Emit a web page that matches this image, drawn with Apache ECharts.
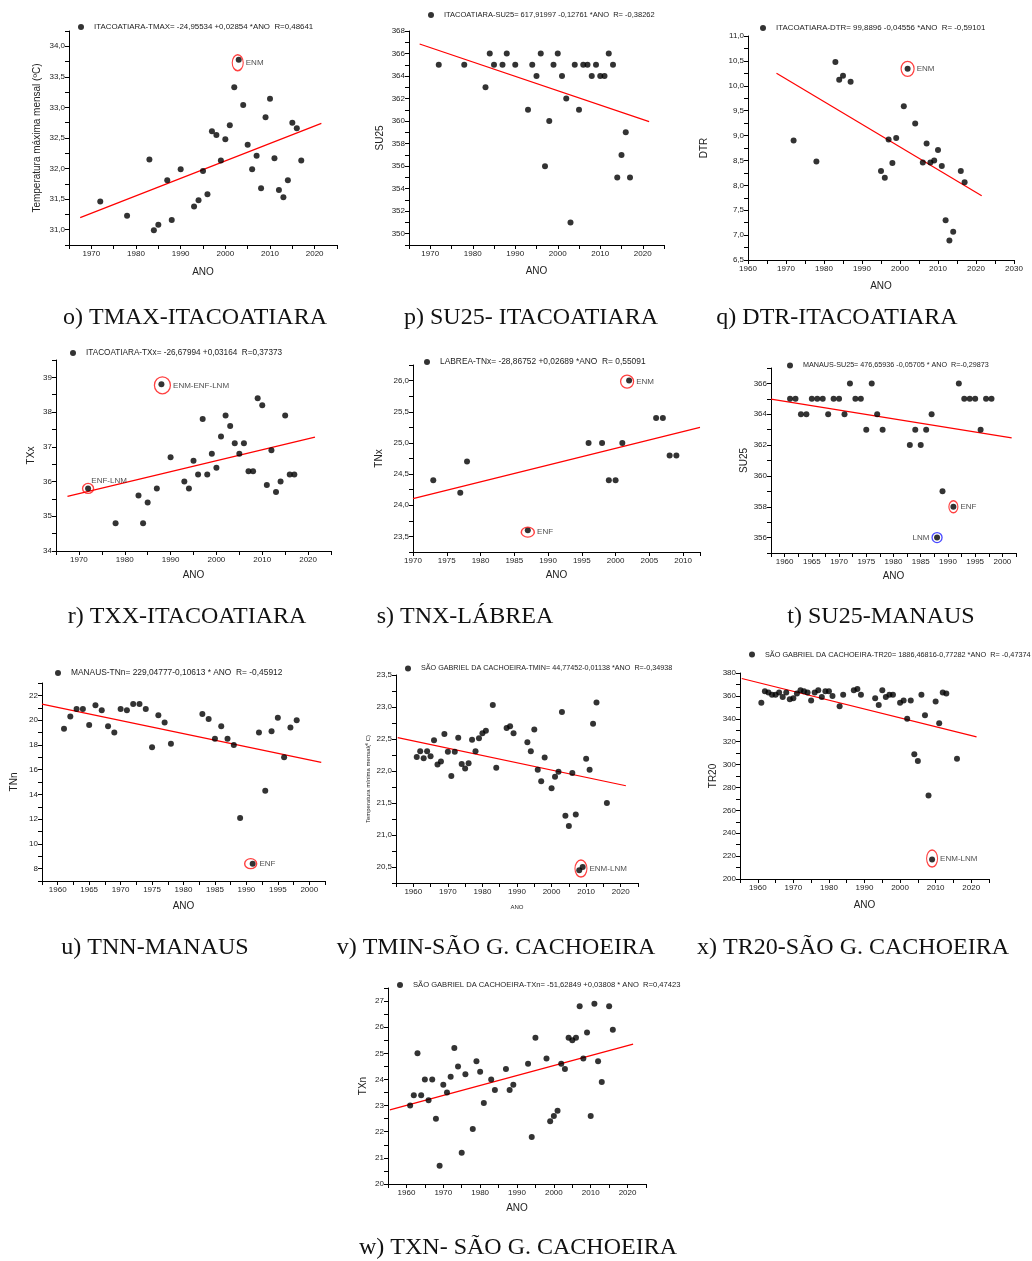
<!DOCTYPE html>
<html>
<head>
<meta charset="utf-8">
<script src="https://cdn.jsdelivr.net/npm/echarts@6/dist/echarts.min.js"></script>
<style>
html,body{margin:0;padding:0;background:#fff}
#grafico{width:1032px;height:1261px}
</style>
</head>
<body>
<div id="grafico"></div>
<script>
// ---------- Itacoatiara: TMAX ----------
const anosTmaxIta = [1972,1978,1983,1984,1985,1987,1988,1990,1993,1994,1995,1996,1997,1998,1999,2000,2001,2002,2003,2004,2005,2006,2007,2008,2009,2010,2011,2012,2013,2014,2015,2016,2017];
const tmaxIta = [31.46,31.23,32.15,30.99,31.08,31.81,31.16,31.99,31.38,31.48,31.96,31.58,32.61,32.55,32.13,32.48,32.71,33.33,33.78,33.04,32.39,31.99,32.21,31.68,32.84,33.14,32.17,31.65,31.53,31.81,32.75,32.66,32.13];
const coefTmaxIta = [-24.95534, 0.02854];
const destTmaxIta = [[2003, 'ENM']];

// ---------- Itacoatiara: SU25 ----------
const anosSu25Ita = [1972,1978,1983,1984,1985,1987,1988,1990,1993,1994,1995,1996,1997,1998,1999,2000,2001,2002,2003,2004,2005,2006,2007,2008,2009,2010,2011,2012,2013,2014,2015,2016,2017];
const su25Ita = [365,365,363,366,365,365,366,365,361,365,364,366,356,360,365,366,364,362,351,365,361,365,365,364,365,364,364,366,365,355,357,359,355];
const coefSu25Ita = [617.91997, -0.12761];
const destSu25Ita = [];

// ---------- Itacoatiara: DTR ----------
const anosDtrIta = [1972,1978,1983,1984,1985,1987,1995,1996,1997,1998,1999,2001,2002,2004,2006,2007,2008,2009,2010,2011,2012,2013,2014,2016,2017];
const dtrIta = [8.90,8.48,10.48,10.12,10.20,10.08,8.29,8.15,8.92,8.45,8.95,9.59,10.34,9.24,8.46,8.84,8.46,8.50,8.71,8.39,7.30,6.89,7.07,8.29,8.06];
const coefDtrIta = [99.8896, -0.04556];
const destDtrIta = [[2002, 'ENM']];

// ---------- Itacoatiara: TXx ----------
const anosTxxIta = [1972,1978,1983,1984,1985,1987,1988,1990,1993,1994,1995,1996,1997,1998,1999,2000,2001,2002,2003,2004,2005,2006,2007,2008,2009,2010,2011,2012,2013,2014,2015,2016,2017];
const txxIta = [35.8,34.8,35.6,34.8,35.4,35.8,38.8,36.7,36.0,35.8,36.6,36.2,37.8,36.2,36.8,36.4,37.3,37.9,37.6,37.1,36.8,37.1,36.3,36.3,38.4,38.2,35.9,36.9,35.7,36.0,37.9,36.2,36.2];
const coefTxxIta = [-26.67994, 0.03164];
const destTxxIta = [[1988, 'ENM-ENF-LNM'], [1972, 'ENF-LNM']];

// ---------- Lábrea: TNx ----------
const anosTnxLab = [1973,1977,1978,1987,1996,1998,1999,2000,2001,2002,2006,2007,2008,2009];
const tnxLab = [24.4,24.2,24.7,23.6,25.0,25.0,24.4,24.4,25.0,26.0,25.4,25.4,24.8,24.8];
const coefTnxLab = [-28.86752, 0.02689];
const destTnxLab = [[2002, 'ENM'], [1987, 'ENF']];

// ---------- Manaus: SU25 ----------
const anosSu25Man = [1961,1962,1963,1964,1965,1966,1967,1968,1969,1970,1971,1972,1973,1974,1975,1976,1977,1978,1983,1984,1985,1986,1987,1988,1989,1991,1992,1993,1994,1995,1996,1997,1998];
const su25Man = [365,365,364,364,365,365,365,364,365,365,364,366,365,365,363,366,364,363,362,363,362,363,364,356,359,358,366,365,365,365,363,365,365];
const coefSu25Man = [476.65936, -0.05705];
const destSu25Man = [[1991, 'ENF'], [1988, 'LNM']];

// ---------- Manaus: TNn ----------
const anosTnnMan = [1961,1962,1963,1964,1965,1966,1967,1968,1969,1970,1971,1972,1973,1974,1975,1976,1977,1978,1983,1984,1985,1986,1987,1988,1989,1991,1992,1993,1994,1995,1996,1997,1998];
const tnnMan = [19.3,20.3,20.9,20.9,19.6,21.2,20.8,19.5,19.0,20.9,20.8,21.3,21.3,20.9,17.8,20.4,19.8,18.1,20.5,20.1,18.5,19.5,18.5,18.0,12.1,8.4,19.0,14.3,19.1,20.2,17.0,19.4,20.0];
const coefTnnMan = [229.04777, -0.10613];
const destTnnMan = [[1991, 'ENF']];

// ---------- São Gabriel da Cachoeira: TMIN ----------
const anosTminSgc = [1961,1962,1963,1964,1965,1966,1967,1968,1969,1970,1971,1972,1973,1974,1975,1976,1977,1978,1979,1980,1981,1983,1984,1987,1988,1989,1993,1994,1995,1996,1997,1998,2000,2001,2002,2003,2004,2005,2006,2007,2008,2009,2010,2011,2012,2013,2016];
const tminSgc = [22.22,22.31,22.20,22.31,22.23,22.48,22.10,22.15,22.58,22.30,21.92,22.30,22.52,22.11,22.04,22.12,22.49,22.31,22.51,22.59,22.63,23.03,22.05,22.67,22.70,22.59,22.45,22.31,22.65,22.02,21.84,22.21,21.73,21.91,21.99,22.92,21.30,21.14,21.97,21.32,20.45,20.50,22.19,22.02,22.74,23.07,21.50];
const coefTminSgc = [44.77452, -0.01138];
const destTminSgc = [[[2008, 2009], 'ENM-LNM']];

// ---------- São Gabriel da Cachoeira: TR20 ----------
const anosTr20Sgc = [1961,1962,1963,1964,1965,1966,1967,1968,1969,1970,1971,1972,1973,1974,1975,1976,1977,1978,1979,1980,1981,1983,1984,1987,1988,1989,1993,1994,1995,1996,1997,1998,2000,2001,2002,2003,2004,2005,2006,2007,2008,2009,2010,2011,2012,2013,2016];
const tr20Sgc = [354,364,363,361,361,363,359,363,357,358,362,365,364,363,356,363,365,359,364,364,360,351,361,365,366,361,358,352,365,359,361,361,354,356,340,356,309,303,361,343,273,217,355,336,363,362,305];
const coefTr20Sgc = [1886.46816, -0.77282];
const destTr20Sgc = [[2009, 'ENM-LNM']];

// ---------- São Gabriel da Cachoeira: TXn ----------
const anosTxnSgc = [1961,1962,1963,1964,1965,1966,1967,1968,1969,1970,1971,1972,1973,1974,1975,1976,1978,1979,1980,1981,1983,1984,1987,1988,1989,1993,1994,1995,1998,1999,2000,2001,2002,2003,2004,2005,2006,2007,2008,2009,2010,2011,2012,2013,2015,2016];
const txnSgc = [23.0,23.4,25.0,23.4,24.0,23.2,24.0,22.5,20.7,23.8,23.5,24.1,25.2,24.5,21.2,24.2,22.1,24.7,24.3,23.1,24.0,23.6,24.4,23.6,23.8,24.6,21.8,25.6,24.8,22.4,22.6,22.8,24.6,24.4,25.6,25.5,25.6,26.8,24.8,25.8,22.6,26.9,24.7,23.9,26.8,25.9];
const coefTxnSgc = [-51.62849, 0.03808];
const destTxnSgc = [];

// ---------- texts ----------
const equacoes = [
  'ITACOATIARA-TMAX= -24,95534 +0,02854 *ANO  R=0,48641',
  'ITACOATIARA-SU25= 617,91997 -0,12761 *ANO  R= -0,38262',
  'ITACOATIARA-DTR= 99,8896 -0,04556 *ANO  R= -0,59101',
  'ITACOATIARA-TXx= -26,67994 +0,03164  R=0,37373',
  'LABREA-TNx= -28,86752 +0,02689 *ANO  R= 0,55091',
  'MANAUS-SU25= 476,65936 -0,05705 * ANO  R=-0,29873',
  'MANAUS-TNn= 229,04777-0,10613 * ANO  R= -0,45912',
  'SÃO GABRIEL DA CACHOEIRA-TMIN= 44,77452-0,01138 *ANO  R=-0,34938',
  'SÃO GABRIEL DA CACHOEIRA-TR20= 1886,46816-0,77282 *ANO  R= -0,47374',
  'SÃO GABRIEL DA CACHOEIRA-TXn= -51,62849 +0,03808 * ANO  R=0,47423'
];
const titulosY = ['Temperatura máxima mensal (ºC)','SU25','DTR','TXx','TNx','SU25','TNn','Temperatura mínima mensal(º C)','TR20','TXn'];
const tituloX = 'ANO';
const legendas = [
  'o) TMAX-ITACOATIARA','p) SU25- ITACOATIARA','q) DTR-ITACOATIARA',
  'r) TXX-ITACOATIARA','s) TNX-LÁBREA','t) SU25-MANAUS',
  'u) TNN-MANAUS','v) TMIN-SÃO G. CACHOEIRA','x) TR20-SÃO G. CACHOEIRA',
  'w) TXN- SÃO G. CACHOEIRA'
];

// ---------- panel layout ----------
const VERMELHO = '#ff1010';
const AZUL = '#1a1aff';
const paineis = [
  { anos: anosTmaxIta, valores: tmaxIta, coef: coefTmaxIta, dest: destTmaxIta,
    grade: [69, 31, 268, 214], x: [1965, 2025, 5, 10], y: [30.75, 34.25, 0.25, 0.5, 1], reta: [1967.5, 2021.5],
    gapY: 27, gapX: 22, leg: [81, 28], fonteLeg: 7.9, cap: [195, 318],
    aneis: [{ w: 11, h: 16, dx: -1, dy: 3, cor: VERMELHO, pos: 'right' }] },
  { anos: anosSu25Ita, valores: su25Ita, coef: coefSu25Ita, dest: destSu25Ita,
    grade: [409, 31, 255, 214], x: [1965, 2025, 5, 10], y: [349, 368, 1, 2, 0], reta: [1967.5, 2021.5],
    gapY: 24, gapX: 21, leg: [431, 16], fonteLeg: 7.5, cap: [531, 318], aneis: [] },
  { anos: anosDtrIta, valores: dtrIta, coef: coefDtrIta, dest: destDtrIta,
    grade: [748, 36, 266, 224], x: [1960, 2030, 5, 10], y: [6.5, 11, 0.25, 0.5, 1], reta: [1967.5, 2021.5],
    gapY: 39, gapX: 21, leg: [763, 29], fonteLeg: 7.9, cap: [837, 318],
    aneis: [{ w: 13, h: 15, dx: 0, dy: 0, cor: VERMELHO, pos: 'right' }] },
  { anos: anosTxxIta, valores: txxIta, coef: coefTxxIta, dest: destTxxIta,
    grade: [56, 360, 275, 191], x: [1965, 2025, 5, 10], y: [34, 39.5, 0.5, 1, 0], reta: [1967.5, 2021.5],
    gapY: 20, gapX: 19, leg: [73, 354], fonteLeg: 8.2, cap: [187, 617],
    aneis: [{ w: 16, h: 17, dx: 1, dy: 1, cor: VERMELHO, pos: 'right' },
            { w: 11, h: 10, dx: 0, dy: 0, cor: VERMELHO, pos: 'top', off: [21, 2] }] },
  { anos: anosTnxLab, valores: tnxLab, coef: coefTnxLab, dest: destTnxLab,
    grade: [413, 365, 287, 187], x: [1970, 2012.5, 5, 5], y: [23.25, 26.25, 0.25, 0.5, 1], reta: [1970, 2012.5],
    gapY: 29, gapX: 18, leg: [427, 363], fonteLeg: 8.4, cap: [465, 617],
    aneis: [{ w: 13, h: 13, dx: -2, dy: 1, cor: VERMELHO, pos: 'right' },
            { w: 13, h: 10, dx: 0, dy: 2, cor: VERMELHO, pos: 'right' }] },
  { anos: anosSu25Man, valores: su25Man, coef: coefSu25Man, dest: destSu25Man,
    grade: [771, 368, 245, 185], x: [1957.5, 2002.5, 2.5, 5], y: [355, 367, 1, 2, 0], reta: [1957.5, 2001.7],
    gapY: 22, gapX: 18, leg: [790, 367], fonteLeg: 7.2, cap: [881, 617],
    aneis: [{ w: 9, h: 12, dx: 0, dy: 0, cor: VERMELHO, pos: 'right' },
            { w: 10, h: 10, dx: 0, dy: 0, cor: AZUL, pos: 'left' }] },
  { anos: anosTnnMan, valores: tnnMan, coef: coefTnnMan, dest: destTnnMan,
    grade: [42, 683, 283, 198], x: [1957.5, 2002.5, 2.5, 5], y: [7, 23, 1, 2, 0], reta: [1957.5, 2001.9],
    gapY: 23, gapX: 20, leg: [58, 674], fonteLeg: 8.4, cap: [155, 948],
    aneis: [{ w: 12, h: 10, dx: -2, dy: 0, cor: VERMELHO, pos: 'right' }] },
  { anos: anosTminSgc, valores: tminSgc, coef: coefTminSgc, dest: destTminSgc,
    grade: [396, 675, 242, 208], x: [1955, 2025, 5, 10], y: [20.25, 23.5, 0.25, 0.5, 1], reta: [1955.5, 2021.5],
    gapY: 25, gapX: 21, leg: [408, 670], fonteLeg: 7.2, cap: [496, 948], fonteTitulo: 6,
    aneis: [{ w: 12, h: 17, dx: 0, dy: 0, cor: VERMELHO, pos: 'right' }] },
  { anos: anosTr20Sgc, valores: tr20Sgc, coef: coefTr20Sgc, dest: destTr20Sgc,
    grade: [740, 673, 249, 206], x: [1955, 2025, 5, 10], y: [200, 380, 10, 20, 0], reta: [1955.5, 2021.5],
    gapY: 22, gapX: 21, leg: [752, 656], fonteLeg: 7.3, cap: [853, 948],
    aneis: [{ w: 11, h: 17, dx: 0, dy: -1, cor: VERMELHO, pos: 'right' }] },
  { anos: anosTxnSgc, valores: txnSgc, coef: coefTxnSgc, dest: destTxnSgc,
    grade: [388, 988, 258, 196], x: [1955, 2025, 5, 10], y: [20, 27.5, 0.5, 1, 0], reta: [1955.5, 2021.5],
    gapY: 20, gapX: 19, leg: [400, 986], fonteLeg: 7.6, cap: [518, 1248], aneis: [] }
];

const SANS = "'Liberation Sans', Arial, Helvetica, sans-serif";
const SERIF = "'Liberation Serif', 'Times New Roman', serif";
const TEXTO = '#222';

// shows only labels that fall on the major step, with a decimal comma
function rotulo(passo, casas) {
  return function (v) {
    const r = v / passo;
    if (Math.abs(r - Math.round(r)) > 1e-6) return '';
    return casas ? v.toFixed(casas).replace('.', ',') : String(Math.round(v));
  };
}

function ponto(p, ano) {
  const i = p.anos.indexOf(ano);
  return [p.anos[i], p.valores[i]];
}

const grid = [], xAxis = [], yAxis = [], series = [], legend = [], graphic = [];
// ellipse outline, stretched to each ring's own width/height
const ELIPSE = 'path://M1,0 A1,1 0 1,1 -1,0 A1,1 0 1,1 1,0 Z';

paineis.forEach(function (p, i) {
  const fonteTit = p.fonteTitulo || 10;
  grid.push({ left: p.grade[0], top: p.grade[1], width: p.grade[2], height: p.grade[3], outerBoundsMode: 'none', containLabel: false });

  const eixoBase = {
    gridIndex: i, type: 'value', splitLine: { show: false },
    axisLine: { show: true, onZero: false, lineStyle: { color: '#000', width: 1 } },
    axisTick: { show: true, inside: false, length: 4, lineStyle: { color: '#000', width: 1 } },
    nameLocation: 'middle'
  };
  xAxis.push(Object.assign({}, eixoBase, {
    min: p.x[0], max: p.x[1], interval: p.x[2],
    name: tituloX, nameGap: p.gapX,
    nameTextStyle: { fontSize: fonteTit, color: TEXTO, fontFamily: SANS },
    axisLabel: { fontSize: 8, color: TEXTO, fontFamily: SANS, margin: 5, formatter: rotulo(p.x[3], 0) }
  }));
  yAxis.push(Object.assign({}, eixoBase, {
    min: p.y[0], max: p.y[1], interval: p.y[2],
    name: titulosY[i], nameGap: p.gapY, nameRotate: 90,
    nameTextStyle: { fontSize: fonteTit, color: TEXTO, fontFamily: SANS },
    axisLabel: { fontSize: 8, color: TEXTO, fontFamily: SANS, margin: 4, formatter: rotulo(p.y[3], p.y[4]) }
  }));

  series.push({
    name: equacoes[i], type: 'scatter', xAxisIndex: i, yAxisIndex: i,
    symbol: 'circle', symbolSize: 6, itemStyle: { color: '#000' },
    data: p.anos.map(function (a, k) { return [a, p.valores[k]]; }),
    silent: true, z: 3
  });

  // regression line from the stated coefficients
  series.push({
    name: 'ajuste-' + i, type: 'line', xAxisIndex: i, yAxisIndex: i,
    symbol: 'none', silent: true, z: 2,
    lineStyle: { color: '#ff0000', width: 1.2 },
    data: p.reta.map(function (a) { return [a, p.coef[0] + p.coef[1] * a]; })
  });

  if (p.dest.length) {
    series.push({
      name: 'eventos-' + i, type: 'scatter', xAxisIndex: i, yAxisIndex: i,
      symbol: ELIPSE, silent: true, z: 4,
      data: p.dest.map(function (d, k) {
        const anel = p.aneis[k];
        const anos = Array.isArray(d[0]) ? d[0] : [d[0]];
        const pts = anos.map(function (a) { return ponto(p, a); });
        const cx = pts.reduce(function (s, q) { return s + q[0]; }, 0) / pts.length;
        const cy = pts.reduce(function (s, q) { return s + q[1]; }, 0) / pts.length;
        return {
          value: [cx, cy],
          symbolSize: [anel.w, anel.h],
          symbolOffset: [anel.dx, anel.dy],
          itemStyle: { color: 'rgba(0,0,0,0)', borderColor: anel.cor, borderWidth: 1.3 },
          label: {
            show: true, formatter: d[1], position: anel.pos, distance: anel.pos === 'top' ? 0 : 2,
            offset: anel.off || [0, 0],
            fontSize: 8, color: TEXTO, fontFamily: SANS
          }
        };
      })
    });
  }

  legend.push({
    data: [equacoes[i]], left: p.leg[0] - 3, top: p.leg[1] - 5,
    itemWidth: 16, itemHeight: 6, padding: 0, selectedMode: false,
    orient: 'horizontal',
    textStyle: { fontSize: p.fonteLeg, color: TEXTO, fontFamily: SANS }
  });

  graphic.push({
    type: 'text', x: p.cap[0], y: p.cap[1], silent: true,
    style: {
      text: legendas[i], fill: '#111', fontSize: 24, fontFamily: SERIF,
      align: 'center', verticalAlign: 'middle', textAlign: 'center', textVerticalAlign: 'middle'
    }
  });
});

const grafico = echarts.init(document.getElementById('grafico'), null, { renderer: 'canvas' });
grafico.setOption({
  animation: false,
  backgroundColor: '#ffffff',
  textStyle: { fontFamily: SANS },
  grid: grid, xAxis: xAxis, yAxis: yAxis, series: series, legend: legend, graphic: graphic
});
</script>
</body>
</html>
